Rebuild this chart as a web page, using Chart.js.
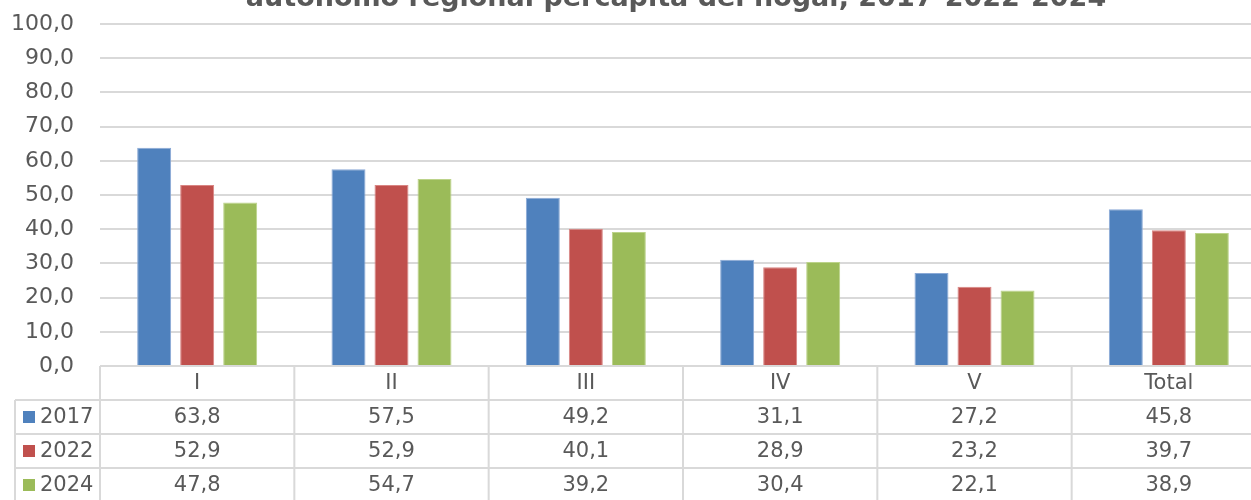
<!DOCTYPE html>
<html>
<head>
<meta charset="utf-8">
<script src="https://cdn.jsdelivr.net/npm/chart.js@4"></script>
<style>
  body { margin: 0; background: #fff; overflow: hidden; }
  #wrap { width: 1251px; height: 500px; overflow: hidden; }
</style>
</head>
<body>
<div id="wrap"><canvas id="chart" width="1270" height="500"></canvas></div>
<script>
const titleText = 'autónomo regional percápita del hogar, 2017-2022-2024';
const categories = ['I', 'II', 'III', 'IV', 'V', 'Total'];
const seriesNames = ['2017', '2022', '2024'];
const values2017 = [63.8, 57.5, 49.2, 31.1, 27.2, 45.8];
const values2022 = [52.9, 52.9, 40.1, 28.9, 23.2, 39.7];
const values2024 = [47.8, 54.7, 39.2, 30.4, 22.1, 38.9];

const colors = ['#4f81bd', '#c0504d', '#9bbb59'];
const edges = ['#8aa9d6', '#d98583', '#bcd38a'];
const fontFamily = '"DejaVu Sans", Verdana, sans-serif';
const textColor = '#595959';
const lineColor = '#d9d9d9';

const fmt = v => v.toFixed(1).replace('.', ',');

// draws the title and the data table under the plot
const tablePlugin = {
    id: 'dataTable',
    afterDraw(chart) {
        const ctx = chart.ctx;
        const area = chart.chartArea;
        const x = chart.scales.x;
        const rowH = 34;
        const top = area.bottom;
        const right = area.right;
        const leftCol = 15;
        const colW = (area.right - area.left) / categories.length;
        const data = chart.data.datasets;

        ctx.save();
        // title (its upper part is cut off in the original)
        ctx.fillStyle = textColor;
        ctx.font = 'bold 27px ' + fontFamily;
        ctx.textAlign = 'center';
        ctx.textBaseline = 'alphabetic';
        ctx.fillText(titleText, 676, 6);

        // grid lines of the table
        ctx.strokeStyle = lineColor;
        ctx.lineWidth = 2;
        ctx.beginPath();
        ctx.moveTo(area.left, top);
        ctx.lineTo(right, top);
        for (let r = 1; r <= data.length; r++) {
            ctx.moveTo(leftCol, top + r * rowH);
            ctx.lineTo(right, top + r * rowH);
        }
        for (let c = 0; c <= categories.length; c++) {
            const cx = area.left + c * colW;
            ctx.moveTo(cx, top);
            ctx.lineTo(cx, top + (data.length + 1) * rowH + 4);
        }
        ctx.moveTo(leftCol, top + rowH);
        ctx.lineTo(leftCol, top + (data.length + 1) * rowH + 4);
        ctx.stroke();

        // category labels
        ctx.font = '21px ' + fontFamily;
        ctx.textBaseline = 'middle';
        ctx.textAlign = 'center';
        ctx.fillStyle = textColor;
        categories.forEach((c, i) => {
            ctx.fillText(c, x.getPixelForValue(i), top + rowH / 2 + 1);
        });

        // rows with legend keys
        data.forEach((ds, r) => {
            const cy = top + (r + 1) * rowH + rowH / 2 + 1;
            ctx.fillStyle = ds.backgroundColor;
            ctx.fillRect(23, cy - 7, 12, 12);
            ctx.fillStyle = textColor;
            ctx.textAlign = 'left';
            ctx.fillText(ds.label, 40, cy);
            ctx.textAlign = 'center';
            ds.data.forEach((v, i) => {
                ctx.fillText(fmt(v), x.getPixelForValue(i), cy);
            });
        });
        ctx.restore();
    }
};

const allValues = [values2017, values2022, values2024];

new Chart(document.getElementById('chart'), {
    type: 'bar',
    data: {
        labels: categories,
        datasets: seriesNames.map((name, i) => ({
            label: name,
            data: allValues[i],
            backgroundColor: colors[i],
            borderColor: edges[i],
            borderWidth: 1,
            categoryPercentage: 0.664,
            barPercentage: 0.79
        }))
    },
    options: {
        responsive: false,
        animation: false,
        devicePixelRatio: 1,
        layout: { padding: { top: 24, right: 4, bottom: 134, left: 0 } },
        scales: {
            x: { display: false },
            y: {
                min: 0,
                max: 100,
                ticks: {
                    stepSize: 10,
                    padding: 0,
                    color: textColor,
                    font: { family: fontFamily, size: 22 },
                    callback: v => fmt(v)
                },
                grid: {
                    color: lineColor,
                    lineWidth: 2,
                    drawTicks: true,
                    tickLength: 26,
                    tickColor: 'rgba(0,0,0,0)'
                },
                border: { display: false },
                afterFit(scale) { scale.width = 100; }
            }
        },
        plugins: {
            legend: { display: false },
            tooltip: { enabled: false }
        }
    },
    plugins: [tablePlugin]
});
</script>
</body>
</html>
